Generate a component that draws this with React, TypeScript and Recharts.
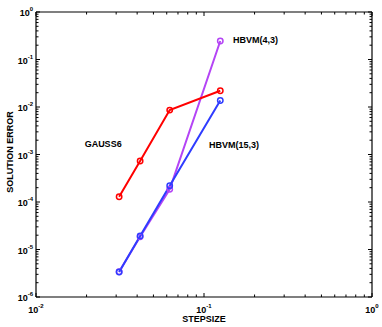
import React from 'react';
import { LineChart, Line, XAxis, YAxis, ReferenceDot } from 'recharts';

const stepsizes = [1 / 32, 1 / 24, 1 / 16, 1 / 8];
const gauss6 = [1.29e-4, 7.3e-4, 8.6e-3, 2.2e-2];
const hbvm43 = [3.4e-6, 1.85e-5, 1.85e-4, 0.245];
const hbvm153 = [3.36e-6, 1.92e-5, 2.2e-4, 1.37e-2];

const xDecades = [-2, -1, 0];
const yDecades = [-6, -5, -4, -3, -2, -1, 0];

const seriesLabels = [
  { text: 'GAUSS6', x: 0.0251, y: 1.66e-3, anchor: 'middle' },
  { text: 'HBVM(15,3)', x: 0.107, y: 1.58e-3, anchor: 'start' },
  { text: 'HBVM(4,3)', x: 0.149, y: 0.257, anchor: 'start' },
];

const logTicks = (decades: number[]) => {
  const out: number[] = [];
  decades.forEach((d, i) => {
    const base = Math.pow(10, d);
    out.push(base);
    if (i < decades.length - 1) {
      for (let m = 2; m <= 9; m++) out.push(m * base);
    }
  });
  return out;
};

const xTicks = logTicks(xDecades);
const yTicks = logTicks(yDecades);

const data = stepsizes.map((s, i) => ({
  x: s,
  gauss6: gauss6[i],
  hbvm43: hbvm43[i],
  hbvm153: hbvm153[i],
}));

const FONT = '"Liberation Sans", Arial, Helvetica, sans-serif';

const exponentOf = (v: number) => Math.log10(v);
const isMajor = (v: number) => Math.abs(exponentOf(v) - Math.round(exponentOf(v))) < 1e-6;

const MAJOR = 4;
const MINOR = 2.5;

const BottomTick = (props: any) => {
  const { x, y, payload } = props;
  const v = payload.value;
  const major = isMajor(v);
  return (
    <g>
      <line x1={x} y1={y} x2={x} y2={y - (major ? MAJOR : MINOR)} stroke="#000" strokeWidth={1} />
      {major && (
        <text x={x} y={y + 15.5} textAnchor="middle" fontFamily={FONT} fontWeight="bold" fontSize={9} fill="#000">
          <tspan>10</tspan>
          <tspan dy={-5} fontSize={6}>{String(Math.round(exponentOf(v)))}</tspan>
        </text>
      )}
    </g>
  );
};

const TopTick = (props: any) => {
  const { x, y, payload } = props;
  const major = isMajor(payload.value);
  return <line x1={x} y1={y} x2={x} y2={y + (major ? MAJOR : MINOR)} stroke="#000" strokeWidth={1} />;
};

const LeftTick = (props: any) => {
  const { x, y, payload } = props;
  const v = payload.value;
  const major = isMajor(v);
  return (
    <g>
      <line x1={x} y1={y} x2={x + (major ? MAJOR : MINOR)} y2={y} stroke="#000" strokeWidth={1} />
      {major && (
        <text x={x - 3} y={y + 4} textAnchor="end" fontFamily={FONT} fontWeight="bold" fontSize={9} fill="#000">
          <tspan>10</tspan>
          <tspan dy={-5} fontSize={6}>{String(Math.round(exponentOf(v)))}</tspan>
        </text>
      )}
    </g>
  );
};

const RightTick = (props: any) => {
  const { x, y, payload } = props;
  const major = isMajor(payload.value);
  return <line x1={x} y1={y} x2={x - (major ? MAJOR : MINOR)} y2={y} stroke="#000" strokeWidth={1} />;
};

const SeriesLabel = (text: string, anchor: string) => (props: any) => {
  const vb = props.viewBox || {};
  const cx = (vb.x ?? 0) + (vb.width ?? 0) / 2;
  const cy = (vb.y ?? 0) + (vb.height ?? 0) / 2;
  return (
    <text x={cx} y={cy + 3} textAnchor={anchor} fontFamily={FONT} fontWeight="bold" fontSize={9} fill="#000">
      {text}
    </text>
  );
};

const dotStyle = (color: string) => ({ r: 2.7, stroke: color, strokeWidth: 1.5, fill: 'none' });

const axisCommon = {
  type: 'number' as const,
  scale: 'log' as const,
  interval: 0 as const,
  allowDataOverflow: true,
  tickSize: 0,
  tickMargin: 0,
  tickLine: false,
  axisLine: { stroke: '#000', strokeWidth: 1.2 },
};

export default function App() {
  return (
    <div style={{ position: 'absolute', left: 0, top: 0, width: 382, height: 327, background: '#fff' }}>
      <LineChart width={382} height={327} data={data} margin={{ top: 0, right: 0, bottom: 0, left: 0 }}>
        <XAxis {...axisCommon} xAxisId="b" dataKey="x" domain={[0.01, 1]} ticks={xTicks} height={30} tick={BottomTick} orientation="bottom" />
        <XAxis {...axisCommon} xAxisId="t" dataKey="x" domain={[0.01, 1]} ticks={xTicks} height={12} tick={TopTick} orientation="top" />
        <YAxis {...axisCommon} yAxisId="l" domain={[1e-6, 1]} ticks={yTicks} width={36} tick={LeftTick} orientation="left" />
        <YAxis {...axisCommon} yAxisId="r" domain={[1e-6, 1]} ticks={yTicks} width={10} tick={RightTick} orientation="right" />
        <Line xAxisId="b" yAxisId="l" dataKey="hbvm43" stroke="#b444f5" strokeWidth={2} dot={dotStyle('#b444f5')} isAnimationActive={false} />
        <Line xAxisId="b" yAxisId="l" dataKey="hbvm153" stroke="#2f3cff" strokeWidth={2} dot={dotStyle('#2f3cff')} isAnimationActive={false} />
        <Line xAxisId="b" yAxisId="l" dataKey="gauss6" stroke="#ff0000" strokeWidth={2} dot={dotStyle('#ff0000')} isAnimationActive={false} />
        {seriesLabels.map((l) => (
          <ReferenceDot
            key={l.text}
            xAxisId="b"
            yAxisId="l"
            x={l.x}
            y={l.y}
            r={0}
            fill="none"
            stroke="none"
            label={SeriesLabel(l.text, l.anchor)}
          />
        ))}
        <text x={204} y={322} textAnchor="middle" fontFamily={FONT} fontWeight="bold" fontSize={9} fill="#000">
          STEPSIZE
        </text>
        <text
          x={13}
          y={152}
          textAnchor="middle"
          transform="rotate(-90 13 152)"
          fontFamily={FONT}
          fontWeight="bold"
          fontSize={9}
          fill="#000"
        >
          SOLUTION ERROR
        </text>
      </LineChart>
    </div>
  );
}
